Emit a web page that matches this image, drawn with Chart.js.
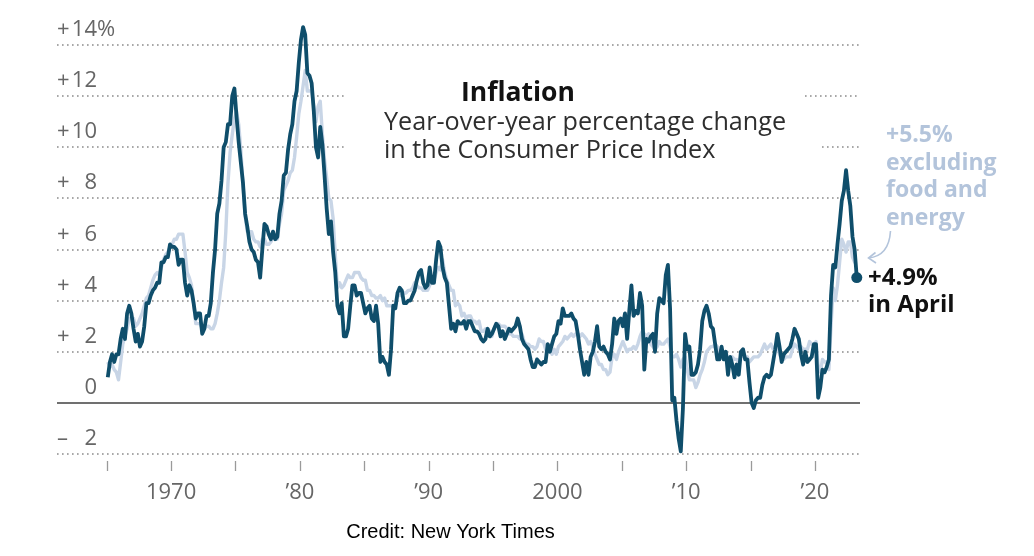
<!DOCTYPE html>
<html>
<head>
<meta charset="utf-8">
<title>Inflation</title>
<script src="https://cdn.jsdelivr.net/npm/chart.js@4.4.0/dist/chart.umd.min.js"></script>
<style>
  html, body { margin: 0; padding: 0; background: #fff; }
  #chart { display: block; }
</style>
</head>
<body>
<canvas id="chart" width="1034" height="556"></canvas>
<script>
// Year-over-year % change in CPI, sampled every other month (Feb, Apr, Jun, Aug, Oct, Dec)
// from Feb 1965 through Apr 2023. One row per year.
const cpiAll = [
  1.0, 1.6, 1.9, 1.6, 1.9, 1.9,
  2.5, 2.9, 2.5, 3.5, 3.8, 3.5,
  2.9, 2.4, 2.7, 2.2, 2.4, 3.0,
  3.9, 3.9, 4.2, 4.4, 4.5, 4.7,
  4.7, 5.5, 5.5, 5.7, 5.7, 6.2,
  6.1, 6.1, 6.0, 5.4, 5.6, 5.6,
  4.7, 4.2, 4.6, 4.4, 3.9, 3.3,
  3.5, 3.5, 2.7, 2.9, 3.4, 3.4,
  3.9, 5.1, 6.0, 7.4, 7.8, 8.7,
  10.0, 10.2, 10.9, 10.9, 12.0, 12.3,
  11.2, 10.2, 9.4, 8.6, 7.4, 6.9,
  6.3, 6.0, 5.9, 5.6, 5.5, 4.9,
  6.0, 7.0, 6.9, 6.6, 6.4, 6.7,
  6.4, 6.5, 7.4, 7.9, 8.9, 9.0,
  9.9, 10.5, 10.9, 11.8, 12.2, 13.3,
  14.2, 14.7, 14.4, 12.9, 12.8, 12.5,
  11.4, 10.0, 9.6, 10.8, 10.1, 8.9,
  7.6, 6.6, 7.1, 5.9, 5.1, 3.8,
  3.5, 3.9, 2.6, 2.6, 2.9, 3.8,
  4.6, 4.6, 4.2, 4.3, 4.3, 3.9,
  3.5, 3.7, 3.8, 3.3, 3.2, 3.8,
  3.1, 1.6, 1.8, 1.6, 1.5, 1.1,
  2.1, 3.8, 3.7, 4.3, 4.5, 4.4,
  3.9, 3.9, 4.0, 4.0, 4.2, 4.4,
  4.8, 5.1, 5.2, 4.7, 4.5, 4.6,
  5.3, 4.7, 4.7, 5.6, 6.3, 6.1,
  5.3, 4.9, 4.7, 3.8, 2.9, 3.1,
  2.8, 3.2, 3.1, 3.1, 3.2, 2.9,
  3.2, 3.2, 3.0, 2.8, 2.8, 2.7,
  2.5, 2.4, 2.5, 2.9, 2.6, 2.7,
  2.9, 3.1, 3.0, 2.6, 2.8, 2.5,
  2.7, 2.9, 2.8, 2.9, 3.0, 3.3,
  3.0, 2.5, 2.3, 2.2, 2.1, 1.7,
  1.4, 1.4, 1.7, 1.6, 1.5, 1.6,
  1.6, 2.3, 2.0, 2.3, 2.6, 2.7,
  3.2, 3.1, 3.7, 3.4, 3.4, 3.4,
  3.5, 3.3, 3.2, 2.7, 2.1, 1.6,
  1.1, 1.6, 1.1, 1.8, 2.0, 2.4,
  3.0, 2.2, 2.1, 2.2, 2.0, 1.9,
  1.7, 2.3, 3.3, 2.7, 3.2, 3.3,
  3.0, 3.5, 2.5, 3.6, 4.6, 3.4,
  3.6, 3.5, 4.3, 3.8, 1.3, 2.5,
  2.4, 2.6, 2.7, 2.0, 3.5, 4.1,
  4.0, 3.9, 5.0, 5.4, 3.7, 0.1,
  0.2, -0.7, -1.4, -1.9, -0.2, 2.7,
  2.1, 2.2, 1.1, 1.1, 1.2, 1.5,
  2.1, 3.2, 3.6, 3.8, 3.5, 3.0,
  2.9, 2.3, 1.7, 1.7, 2.2, 1.7,
  2.0, 1.1, 1.8, 1.5, 1.0, 1.5,
  1.1, 2.0, 2.1, 1.7, 1.7, 0.8,
  0.0, -0.2, 0.1, 0.2, 0.2, 0.7,
  1.0, 1.1, 1.0, 1.1, 1.6, 2.1,
  2.7, 2.2, 1.6, 1.9, 2.0, 2.1,
  2.2, 2.5, 2.9, 2.7, 2.5, 1.9,
  1.5, 2.0, 1.6, 1.7, 1.8, 2.3,
  2.3, 0.2, 0.6, 1.3, 1.2, 1.4,
  1.7, 4.2, 5.4, 5.3, 6.2, 7.0,
  7.9, 8.3, 9.1, 8.3, 7.7, 6.5,
  6.0, 4.9
];

// Same dates, excluding food and energy
const cpiCore = [
  1.6, 1.4, 1.5, 1.3, 1.2, 0.9,
  1.6, 2.3, 2.6, 2.9, 3.3, 3.3,
  3.3, 3.0, 3.1, 3.3, 3.5, 3.8,
  4.1, 4.2, 4.5, 4.8, 5.0, 5.1,
  5.0, 5.3, 5.6, 5.8, 5.9, 6.1,
  6.2, 6.4, 6.4, 6.6, 6.6, 6.6,
  5.9, 5.1, 4.9, 4.6, 3.9, 3.1,
  3.1, 3.1, 2.9, 2.9, 3.0, 3.0,
  2.9, 2.9, 3.1, 3.5, 4.0, 4.7,
  5.3, 6.7, 8.6, 9.8, 10.5, 11.1,
  11.4, 10.9, 9.9, 8.6, 7.3, 6.7,
  6.7, 6.7, 6.4, 6.3, 6.3, 6.1,
  6.4, 6.4, 6.2, 6.2, 6.3, 6.5,
  6.4, 6.4, 7.0, 7.4, 8.3, 8.5,
  8.7, 9.0, 9.1, 9.6, 10.4, 11.3,
  11.8, 12.4, 13.0, 12.2, 12.2, 12.2,
  11.6, 11.0, 11.6, 11.8, 10.5, 9.5,
  8.8, 8.0, 7.9, 7.2, 5.8, 4.5,
  4.7, 4.5, 4.6, 4.8, 5.0, 4.9,
  4.9, 5.1, 5.1, 5.1, 4.9, 4.8,
  4.8, 4.4, 4.4, 4.2, 4.2, 4.1,
  4.1, 4.2, 4.0, 4.1, 3.8, 3.8,
  3.8, 3.8, 3.8, 4.2, 4.2, 4.2,
  4.3, 4.3, 4.4, 4.4, 4.5, 4.7,
  4.6, 4.5, 4.5, 4.4, 4.4, 4.4,
  4.6, 4.8, 4.8, 5.1, 5.3, 5.2,
  5.6, 5.1, 4.8, 4.6, 4.4, 4.4,
  3.8, 3.9, 3.8, 3.4, 3.5, 3.3,
  3.4, 3.4, 3.2, 3.2, 3.1, 3.2,
  2.8, 2.8, 2.9, 2.9, 2.8, 2.6,
  2.9, 3.1, 3.1, 3.0, 3.0, 3.0,
  2.9, 2.7, 2.7, 2.6, 2.6, 2.6,
  2.5, 2.7, 2.4, 2.3, 2.3, 2.2,
  2.2, 2.1, 2.2, 2.5, 2.4, 2.4,
  2.1, 2.2, 2.1, 1.9, 2.1, 1.9,
  2.2, 2.3, 2.4, 2.6, 2.5, 2.6,
  2.7, 2.6, 2.7, 2.7, 2.6, 2.7,
  2.6, 2.5, 2.3, 2.4, 2.2, 1.9,
  1.7, 1.5, 1.5, 1.3, 1.3, 1.1,
  1.2, 1.8, 1.9, 1.7, 2.0, 2.2,
  2.4, 2.2, 2.0, 2.1, 2.1, 2.2,
  2.1, 2.3, 2.6, 2.8, 2.7, 2.6,
  2.7, 2.3, 2.2, 2.1, 2.2, 2.4,
  2.3, 2.3, 2.4, 2.5, 2.2, 1.8,
  1.8, 1.9, 1.7, 1.4, 1.7, 1.8,
  1.3, 0.9, 0.9, 0.9, 0.6, 0.8,
  1.1, 1.3, 1.6, 2.0, 2.1, 2.2,
  2.2, 2.3, 2.2, 1.9, 2.0, 1.9,
  2.0, 1.7, 1.6, 1.8, 1.7, 1.7,
  1.6, 1.8, 1.9, 1.7, 1.8, 1.6,
  1.7, 1.8, 1.8, 1.8, 1.9, 2.1,
  2.3, 2.1, 2.2, 2.3, 2.1, 2.2,
  2.2, 1.9, 1.7, 1.7, 1.8, 1.8,
  1.8, 2.1, 2.3, 2.2, 2.1, 2.2,
  2.1, 2.1, 2.1, 2.4, 2.3, 2.3,
  2.4, 1.4, 1.2, 1.7, 1.6, 1.6,
  1.3, 3.0, 4.5, 4.0, 4.6, 5.5,
  6.4, 6.2, 5.9, 6.3, 6.3, 5.7,
  5.5, 5.5
];

// axis ticks
const yTickValues = [-2, 0, 2, 4, 6, 8, 10, 12, 14];
const yTickLabels = ['– 2', '0', '+ 2', '+ 4', '+ 6', '+ 8', '+10', '+12', '+14%'];
const xTickYears = [1965, 1970, 1975, 1980, 1985, 1990, 1995, 2000, 2005, 2010, 2015, 2020];
const xLabelYears = [1970, 1980, 1990, 2000, 2010, 2020];
const xTickLabels = ['1970', '’80', '’90', '2000', '’10', '’20'];

// dates for the samples above (decimal years)
const sampleDates = [];
for (let yr = 1965; yr <= 2023; yr++) {
  for (let m = 2; m <= 12; m += 2) {
    if (yr === 2023 && m > 4) break;
    sampleDates.push(yr + (m - 1) / 12);
  }
}
if (sampleDates.length !== cpiAll.length || sampleDates.length !== cpiCore.length) {
  console.error('length mismatch', sampleDates.length, cpiAll.length, cpiCore.length);
}

const DARK = '#0f4e6b';
const LIGHT = '#c8d5e6';
const LIGHT_TEXT = '#b3c4db';
const GRID = '#8c8c8c';
const AXIS_TEXT = '#666666';
const SANS = '"Open Sans", "Noto Sans", sans-serif';

// gridline gaps behind the title block, in pixels
const gridGaps = { 10: [345, 822], 12: [345, 805] };

function toPoints(values) {
  return values.map((v, i) => ({ x: sampleDates[i], y: v }));
}

const decorPlugin = {
  id: 'decor',
  beforeDatasetsDraw(chart) {
    const { ctx, chartArea: area, scales: { x, y } } = chart;
    ctx.save();

    // horizontal grid
    yTickValues.forEach(v => {
      const py = Math.round(y.getPixelForValue(v));
      ctx.beginPath();
      if (v === 0) {
        ctx.setLineDash([]);
        ctx.strokeStyle = '#707070';
        ctx.lineWidth = 2;
      } else {
        ctx.setLineDash([1.6, 3.4]);
        ctx.strokeStyle = GRID;
        ctx.lineWidth = 1.6;
      }
      const gap = gridGaps[v];
      if (gap) {
        ctx.moveTo(area.left, py); ctx.lineTo(gap[0], py);
        ctx.moveTo(gap[1], py); ctx.lineTo(area.right, py);
      } else {
        ctx.moveTo(area.left, py); ctx.lineTo(area.right, py);
      }
      ctx.stroke();
    });
    ctx.setLineDash([]);

    // y labels sit above their gridline
    ctx.fillStyle = AXIS_TEXT;
    ctx.font = '400 22px ' + SANS;
    ctx.textBaseline = 'alphabetic';
    yTickValues.forEach((v, i) => {
      const py = y.getPixelForValue(v) - 9;
      let label = yTickLabels[i];
      let sign = '';
      if (label[0] === '+' || label[0] === '–') { sign = label[0]; label = label.slice(1).trim(); }
      let suffix = '';
      if (label.endsWith('%')) { suffix = '%'; label = label.slice(0, -1); }
      if (sign) { ctx.textAlign = 'left'; ctx.fillText(sign, area.left, py); }
      ctx.textAlign = 'right';
      ctx.fillText(label, area.left + 40, py);
      if (suffix) { ctx.textAlign = 'left'; ctx.fillText(suffix, area.left + 40, py); }
    });

    // x ticks
    ctx.strokeStyle = '#9a9a9a';
    ctx.lineWidth = 1.3;
    xTickYears.forEach(yr => {
      const px = Math.round(x.getPixelForValue(yr)) + 0.5;
      ctx.beginPath();
      ctx.moveTo(px, area.bottom + 7);
      ctx.lineTo(px, area.bottom + 17);
      ctx.stroke();
    });
    ctx.textAlign = 'center';
    xLabelYears.forEach((yr, i) => {
      ctx.fillText(xTickLabels[i], x.getPixelForValue(yr), area.bottom + 45);
    });
    ctx.restore();
  },
  afterDatasetsDraw(chart) {
    const { ctx } = chart;
    ctx.save();
    ctx.textBaseline = 'alphabetic';
    ctx.textAlign = 'left';

    // title block
    ctx.fillStyle = '#121212';
    ctx.font = '700 26.5px ' + SANS;
    ctx.fillText('Inflation', 461, 101);
    ctx.fillStyle = '#2e2e2e';
    ctx.font = '400 25.2px ' + SANS;
    ctx.fillText('Year-over-year percentage change', 384, 129.5);
    ctx.fillText('in the Consumer Price Index', 384, 158);

    // core annotation
    ctx.fillStyle = LIGHT_TEXT;
    ctx.font = '700 23px ' + SANS;
    ['+5.5%', 'excluding', 'food and', 'energy'].forEach((t, i) => {
      ctx.fillText(t, 886, 142 + i * 27.6);
    });
    ctx.strokeStyle = LIGHT_TEXT;
    ctx.lineWidth = 1.6;
    ctx.beginPath();
    ctx.moveTo(890.5, 231);
    ctx.quadraticCurveTo(889, 256, 868.5, 258);
    ctx.stroke();
    ctx.beginPath();
    ctx.moveTo(875.5, 252.5);
    ctx.lineTo(868.5, 258);
    ctx.lineTo(876, 263);
    ctx.stroke();

    // headline annotation
    ctx.fillStyle = '#111111';
    ctx.font = '700 24px ' + SANS;
    ctx.fillText('+4.9%', 868, 285);
    ctx.fillText('in April', 868, 311.5);

    // credit
    ctx.fillStyle = '#000000';
    ctx.font = '400 20px "Liberation Sans", Arial, sans-serif';
    ctx.textAlign = 'center';
    ctx.fillText('Credit: New York Times', 450.5, 538);
    ctx.restore();
  }
};

function draw() {
  const lastIdx = cpiAll.length - 1;
  new Chart(document.getElementById('chart'), {
    type: 'line',
    data: {
      datasets: [
        {
          label: 'All items',
          data: toPoints(cpiAll),
          borderColor: DARK,
          borderWidth: 3.8,
          borderJoinStyle: 'round',
          tension: 0,
          pointRadius: ctx => (ctx.dataIndex === lastIdx ? 5.5 : 0),
          pointBackgroundColor: DARK,
          pointBorderWidth: 0,
          clip: false,
          order: 1
        },
        {
          label: 'Excluding food and energy',
          data: toPoints(cpiCore),
          borderColor: LIGHT,
          borderWidth: 3.4,
          borderJoinStyle: 'round',
          tension: 0,
          pointRadius: 0,
          clip: false,
          order: 2
        }
      ]
    },
    options: {
      responsive: false,
      animation: false,
      devicePixelRatio: 1,
      layout: { padding: { left: 57, right: 174, top: 45, bottom: 102 } },
      plugins: {
        legend: { display: false },
        tooltip: { enabled: false }
      },
      scales: {
        x: { type: 'linear', min: 1961.14, max: 2023.5, display: false },
        y: { min: -2, max: 14, display: false }
      }
    },
    plugins: [decorPlugin]
  });
}

Promise.all([
  document.fonts.load('400 22px "Open Sans"'),
  document.fonts.load('700 22px "Open Sans"'),
  document.fonts.load('400 20px "Liberation Sans"')
]).then(draw, draw);
</script>
</body>
</html>
